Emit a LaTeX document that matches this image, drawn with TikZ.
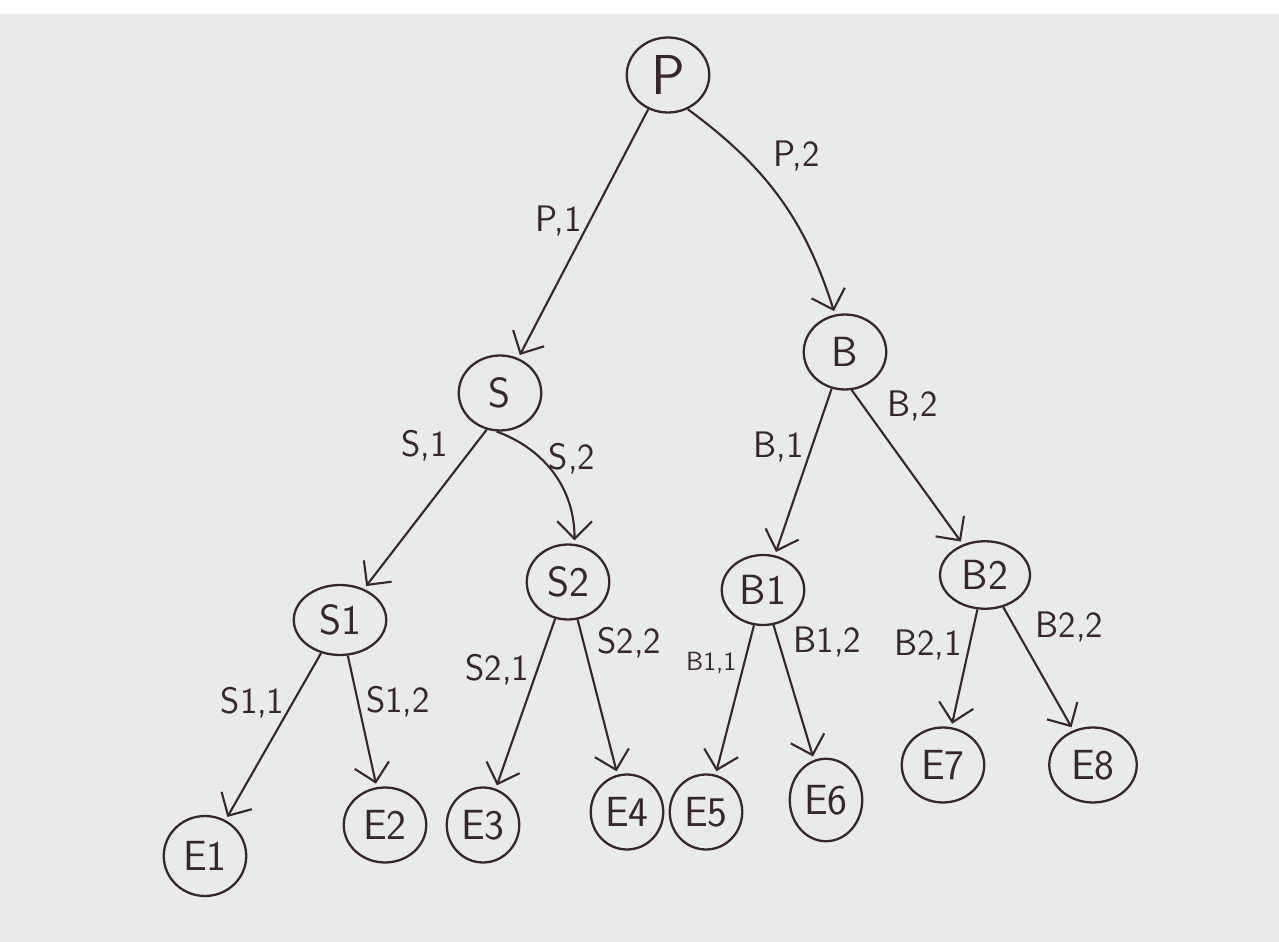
\documentclass[tikz,border=0pt]{standalone}
\usepackage{xcolor}
\usepackage{tikz}
\usetikzlibrary{arrows.meta,positioning,shapes.geometric}

\definecolor{paper}{RGB}{233,235,232}
\definecolor{ink}{RGB}{55,38,46}

\begin{document}
\begin{tikzpicture}[
  x=0.02cm, y=-0.02cm,
  state/.style={draw=ink, ellipse, line width=1.3pt, minimum width=1.65cm, minimum height=1.5cm, inner sep=0pt, text=ink, font=\sffamily\fontsize{24}{26}\selectfont},
  edge/.style={draw=ink, line width=1.2pt, -{Straight Barb[length=3.5mm,width=7mm,line width=1.2pt]}, shorten >=2pt},
  lbl/.style={text=ink, font=\sffamily\fontsize{21}{23}\selectfont, inner sep=4pt}
]
\fill[paper] (0,0) rectangle (1279,942);
\fill[white] (0,0) rectangle (1279,14);
\useasboundingbox (0,0) rectangle (1279,942);

% root and first level
\node[state, font=\sffamily\fontsize{32}{34}\selectfont] (P) at (668,75) {P};
\node[state] (S) at (500,393) {S};
\node[state] (B) at (845,352) {B};

% second level
\node[state, minimum width=1.85cm, minimum height=1.4cm] (S1) at (340,620) {S1};
\node[state] (S2) at (568,582) {S2};
\node[state, minimum height=1.4cm] (B1) at (763,590) {B1};
\node[state, minimum width=1.8cm, minimum height=1.35cm] (B2) at (985,575) {B2};

% leaves
\node[state, minimum height=1.6cm] (E1) at (205,856) {E1};
\node[state] (E2) at (385,825) {E2};
\node[state, minimum width=1.45cm] (E3) at (483,825) {E3};
\node[state, minimum width=1.45cm] (E4) at (627,812) {E4};
\node[state, minimum width=1.45cm] (E5) at (706,812) {E5};
\node[state, minimum width=1.45cm, minimum height=1.65cm] (E6) at (826,800) {E6};
\node[state] (E7) at (943,765) {E7};
\node[state, minimum width=1.75cm] (E8) at (1093,765) {E8};

\draw[edge] (P.-120) -- node[lbl, pos=0.45, left] {P,1} (S);
\draw[edge] (P.-60) to[bend left=18] node[lbl, pos=0.4, above right] {P,2} (B);

\draw[edge] (S.-110) -- node[lbl, pos=0.25, above left] {S,1} (S1);
\draw[edge] (S.-95) to[bend left=35] node[lbl, pos=0.35, right] {S,2} (S2);
\draw[edge] (B.-110) -- node[lbl, pos=0.35, left] {B,1} (B1);
\draw[edge] (B.-80) -- node[lbl, pos=0.25, above right] {B,2} (B2);

\draw[edge] (S1) -- node[lbl, pos=0.3, left] {S1,1} (E1);
\draw[edge] (S1) -- node[lbl, pos=0.35, right] {S1,2} (E2);
\draw[edge] (S2) -- node[lbl, pos=0.3, left] {S2,1} (E3);
\draw[edge] (S2) -- node[lbl, pos=0.3, above right] {S2,2} (E4);
\draw[edge] (B1) -- node[lbl, pos=0.25, left, font=\sffamily\fontsize{15}{17}\selectfont] {B1,1} (E5);
\draw[edge] (B1) -- node[lbl, pos=0.3, above right] {B1,2} (E6);
\draw[edge] (B2) -- node[lbl, pos=0.3, left] {B2,1} (E7);
\draw[edge] (B2) -- node[lbl, pos=0.35, above right] {B2,2} (E8);
\end{tikzpicture}
\end{document}
